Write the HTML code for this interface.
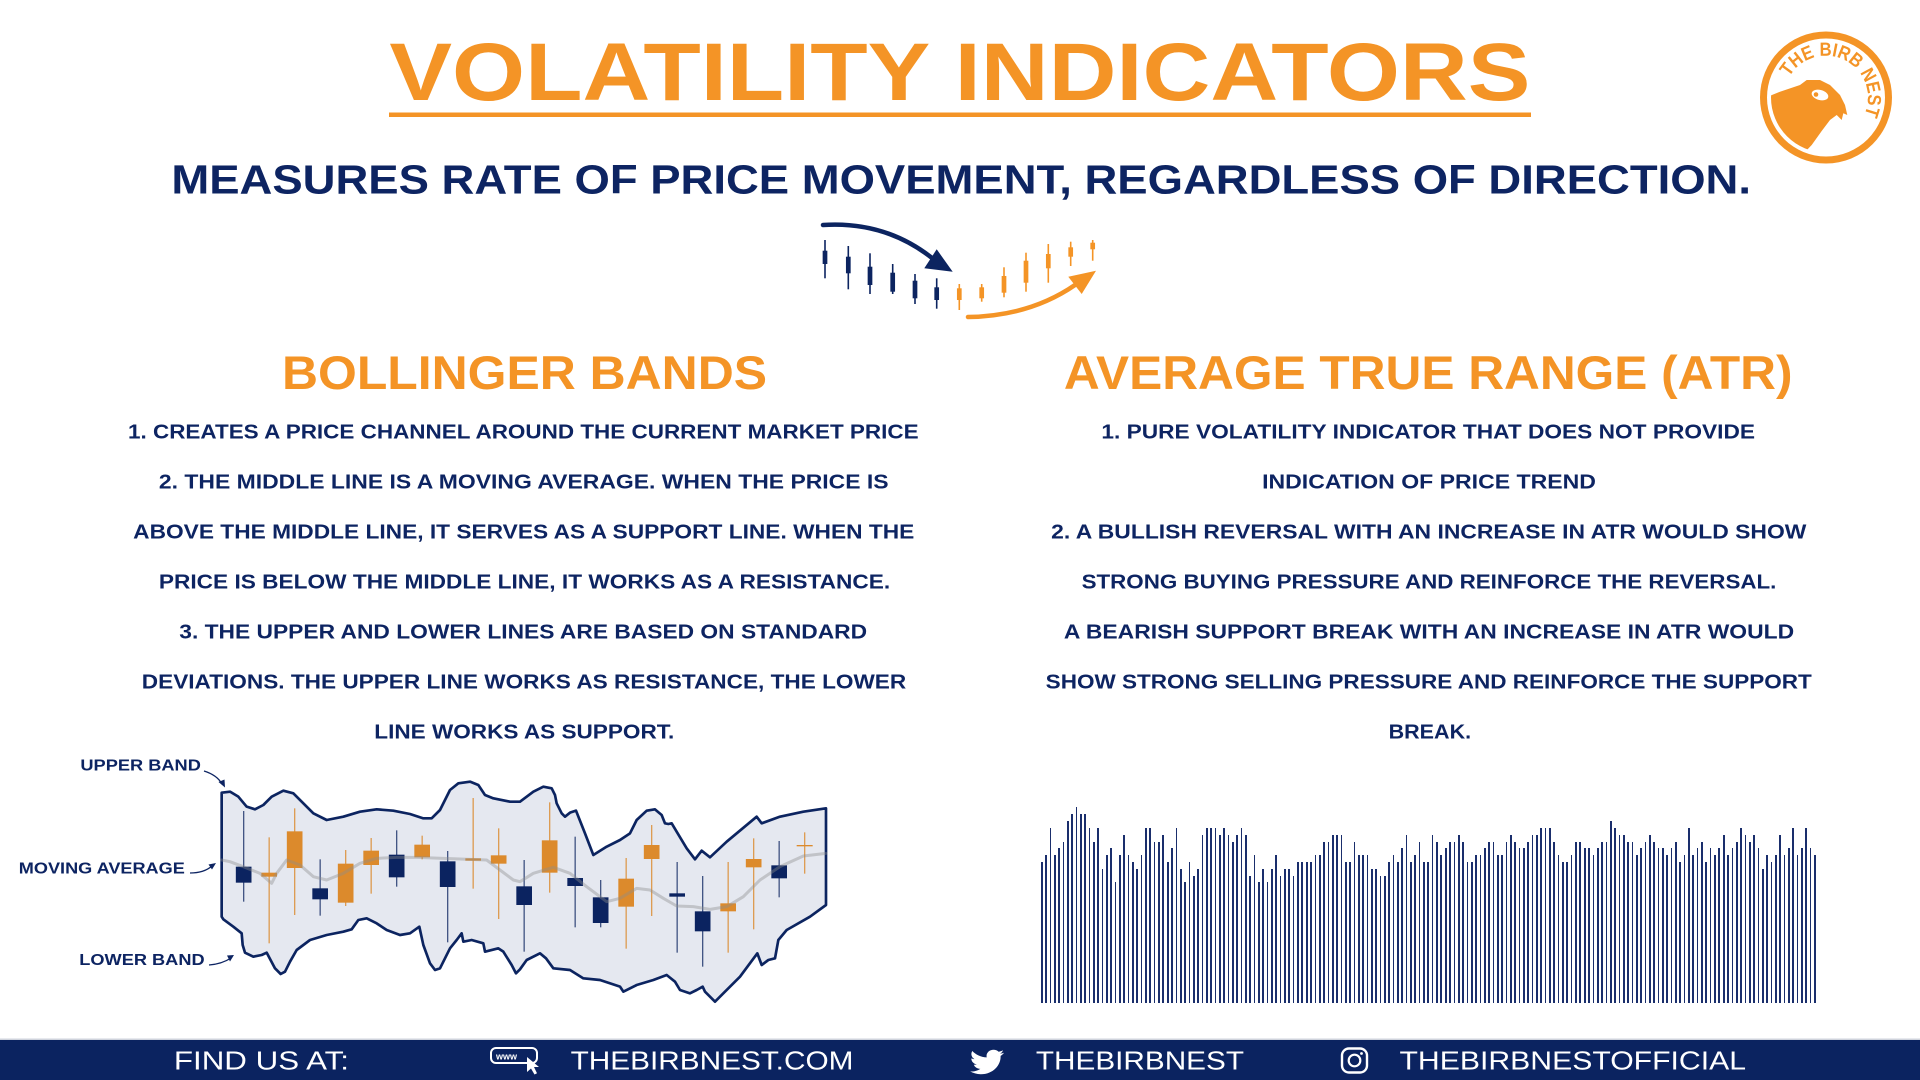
<!DOCTYPE html>
<html>
<head>
<meta charset="utf-8">
<style>
html,body{margin:0;padding:0;background:#fff;}
body{width:1920px;height:1080px;position:relative;overflow:hidden;font-family:"Liberation Sans",sans-serif;}
svg{position:absolute;left:0;top:0;}
#bars{position:absolute;left:1040.85px;top:800px;width:776.7px;height:203px;display:flex;align-items:flex-end;justify-content:space-between;}
#bars i{display:block;width:1.7px;background:#1a2e6c;flex:none;}
#bars .a0{height:195.7px}#bars .a1{height:188.9px}#bars .a2{height:182px}#bars .a3{height:175.2px}
#bars .a4{height:168.4px}#bars .a5{height:161.5px}#bars .a6{height:154.7px}#bars .a7{height:147.9px}
#bars .a8{height:141.1px}#bars .a9{height:134.2px}#bars .a10{height:127.4px}#bars .a11{height:120.6px}
</style>
</head>
<body>
<svg width="1920" height="1080" viewBox="0 0 1920 1080" xmlns="http://www.w3.org/2000/svg">
  <!-- Title -->
  <text x="389.4" y="100" font-family="Liberation Sans, sans-serif" font-weight="bold" font-size="82" fill="#f49426" textLength="1141" lengthAdjust="spacingAndGlyphs">VOLATILITY INDICATORS</text>
  <rect x="389" y="112.5" width="1142" height="4.5" fill="#f49426"/>
  <!-- Subtitle -->
  <text x="171.4" y="193.3" font-family="Liberation Sans, sans-serif" font-weight="bold" font-size="41" fill="#0d2462" textLength="1579.6" lengthAdjust="spacingAndGlyphs">MEASURES RATE OF PRICE MOVEMENT, REGARDLESS OF DIRECTION.</text>

  <!-- Top icon -->
  <g fill="#0c2460">
    <rect x="824.2" y="240" width="1.6" height="38.3"/><rect x="822.65" y="250.7" width="4.7" height="13.3"/>
    <rect x="847.5" y="246" width="1.6" height="43.3"/><rect x="845.95" y="256.7" width="4.7" height="16.6"/>
    <rect x="869.2" y="253.3" width="1.6" height="40.7"/><rect x="867.65" y="266.7" width="4.7" height="18.3"/>
    <rect x="891.9" y="264" width="1.6" height="30"/><rect x="890.35" y="272.7" width="4.7" height="19"/>
    <rect x="914.2" y="274" width="1.6" height="30"/><rect x="912.65" y="280.7" width="4.7" height="17.6"/>
    <rect x="935.9" y="278.3" width="1.6" height="30.4"/><rect x="934.35" y="287.3" width="4.7" height="12.7"/>
  </g>
  <g fill="#f49426">
    <rect x="958.5" y="284" width="1.6" height="26"/><rect x="956.95" y="288.3" width="4.7" height="11.7"/>
    <rect x="980.9" y="284" width="1.6" height="17.7"/><rect x="979.35" y="287.3" width="4.7" height="11"/>
    <rect x="1003.2" y="267.3" width="1.6" height="30"/><rect x="1001.65" y="276" width="4.7" height="16.7"/>
    <rect x="1025.2" y="252.7" width="1.6" height="39"/><rect x="1023.65" y="260.7" width="4.7" height="22"/>
    <rect x="1047.5" y="244" width="1.6" height="38.7"/><rect x="1045.95" y="254" width="4.7" height="14.3"/>
    <rect x="1069.9" y="241.7" width="1.6" height="24.3"/><rect x="1068.35" y="247.3" width="4.7" height="9.4"/>
    <rect x="1091.9" y="240" width="1.6" height="20.7"/><rect x="1090.35" y="242.7" width="4.7" height="6.6"/>
  </g>
  <path d="M823,225 Q885,221 932,258" fill="none" stroke="#0c2460" stroke-width="4.5" stroke-linecap="round"/>
  <polygon points="936.7,249.3 952.7,271.7 924.3,268.3" fill="#0c2460"/>
  <path d="M968,317 Q1030,316 1075,285" fill="none" stroke="#f49426" stroke-width="4.5" stroke-linecap="round"/>
  <polygon points="1068.3,276.7 1096,270.7 1081.7,294" fill="#f49426"/>

  <!-- Logo -->
  <defs>
    <clipPath id="lc"><circle cx="1826" cy="97.5" r="55"/></clipPath>
    <path id="arc" d="M1789.3,77.1 A42,42 0 0 1 1863.1,117.2"/>
  </defs>
  <circle cx="1826" cy="97.5" r="66" fill="#f49426"/>
  <circle cx="1826" cy="97.5" r="59" fill="#fff"/>
  <polygon clip-path="url(#lc)" fill="#f49426" points="1762,99 1780,91.7 1800,85 1806.7,80 1820,80 1830,85 1840,95 1845,105 1847.3,115 1843.3,113.3 1841.7,120 1836.7,115 1830,120 1821.7,131 1811.7,145 1805,152 1800,175 1740,175 1740,99"/>
  <ellipse cx="1820" cy="95" rx="8.5" ry="5" transform="rotate(15 1820 95)" fill="#fff"/>
  <circle cx="1816" cy="94.5" r="2.3" fill="#f49426"/>
  <text font-family="Liberation Sans, sans-serif" font-weight="bold" font-size="19" fill="#f49426"><textPath href="#arc" textLength="128" lengthAdjust="spacingAndGlyphs">THE BIRB NEST</textPath></text>

  <!-- Headings -->
  <text x="282" y="389" font-family="Liberation Sans, sans-serif" font-weight="bold" font-size="47" fill="#f49426" textLength="485" lengthAdjust="spacingAndGlyphs">BOLLINGER BANDS</text>
  <text x="1063.9" y="389" font-family="Liberation Sans, sans-serif" font-weight="bold" font-size="47" fill="#f49426" textLength="728.6" lengthAdjust="spacingAndGlyphs">AVERAGE TRUE RANGE (ATR)</text>

  <!-- Left body -->
  <g font-family="Liberation Sans, sans-serif" font-weight="bold" font-size="20.5" fill="#0d2462">
    <text x="128" y="438.3" textLength="790.6" lengthAdjust="spacingAndGlyphs">1. CREATES A PRICE CHANNEL AROUND THE CURRENT MARKET PRICE</text>
    <text x="158.9" y="488.3" textLength="729.7" lengthAdjust="spacingAndGlyphs">2. THE MIDDLE LINE IS A MOVING AVERAGE. WHEN THE PRICE IS</text>
    <text x="133.2" y="538.3" textLength="781.1" lengthAdjust="spacingAndGlyphs">ABOVE THE MIDDLE LINE, IT SERVES AS A SUPPORT LINE. WHEN THE</text>
    <text x="158.9" y="588.3" textLength="731.3" lengthAdjust="spacingAndGlyphs">PRICE IS BELOW THE MIDDLE LINE, IT WORKS AS A RESISTANCE.</text>
    <text x="179.3" y="638.3" textLength="687.8" lengthAdjust="spacingAndGlyphs">3. THE UPPER AND LOWER LINES ARE BASED ON STANDARD</text>
    <text x="141.8" y="688.3" textLength="764.4" lengthAdjust="spacingAndGlyphs">DEVIATIONS. THE UPPER LINE WORKS AS RESISTANCE, THE LOWER</text>
    <text x="374.3" y="738.3" textLength="300" lengthAdjust="spacingAndGlyphs">LINE WORKS AS SUPPORT.</text>
  </g>
  <!-- Right body -->
  <g font-family="Liberation Sans, sans-serif" font-weight="bold" font-size="20.5" fill="#0d2462">
    <text x="1101.4" y="438.3" textLength="653.6" lengthAdjust="spacingAndGlyphs">1. PURE VOLATILITY INDICATOR THAT DOES NOT PROVIDE</text>
    <text x="1262.1" y="488.3" textLength="333.8" lengthAdjust="spacingAndGlyphs">INDICATION OF PRICE TREND</text>
    <text x="1051.1" y="538.3" textLength="755.3" lengthAdjust="spacingAndGlyphs">2. A BULLISH REVERSAL WITH AN INCREASE IN ATR WOULD SHOW</text>
    <text x="1081.6" y="588.3" textLength="694.8" lengthAdjust="spacingAndGlyphs">STRONG BUYING PRESSURE AND REINFORCE THE REVERSAL.</text>
    <text x="1063.9" y="638.3" textLength="730.2" lengthAdjust="spacingAndGlyphs">A BEARISH SUPPORT BREAK WITH AN INCREASE IN ATR WOULD</text>
    <text x="1045.7" y="688.3" textLength="766.1" lengthAdjust="spacingAndGlyphs">SHOW STRONG SELLING PRESSURE AND REINFORCE THE SUPPORT</text>
    <text x="1388.6" y="738.3" textLength="82.5" lengthAdjust="spacingAndGlyphs">BREAK.</text>
  </g>

  <!-- Bollinger labels -->
  <g font-family="Liberation Sans, sans-serif" font-weight="bold" font-size="16" fill="#0d2462">
    <text x="80.4" y="770.7" textLength="120.5" lengthAdjust="spacingAndGlyphs">UPPER BAND</text>
    <text x="18.8" y="873.3" textLength="166" lengthAdjust="spacingAndGlyphs">MOVING AVERAGE</text>
    <text x="79.3" y="965" textLength="125.3" lengthAdjust="spacingAndGlyphs">LOWER BAND</text>
  </g>
  <g fill="none" stroke="#0d2462" stroke-width="1.3">
    <path d="M204,771 Q217,775 222,784"/>
    <path d="M190,873 Q204,873 212,866"/>
    <path d="M209,965 Q222,964 231,958"/>
  </g>
  <g fill="#0d2462">
    <polygon points="218.5,782 225,787.5 224.5,779.5"/>
    <polygon points="208.5,864.5 216,863 212,869.5"/>
    <polygon points="227,955.5 234,955 230,961.5"/>
  </g>

  <!-- Bollinger chart -->
  <g transform="translate(210,770) scale(0.333333)">
    <polygon fill="#e5e8f0" stroke="#0c2460" stroke-width="8" stroke-linejoin="round" points="35,68 60,65 85,80 110,110 135,118 160,105 185,80 220,62 250,70 280,100 310,130 350,150 400,140 450,125 500,118 550,122 600,132 640,145 665,145 690,120 720,60 745,40 780,35 805,45 825,75 850,85 900,95 930,95 970,65 1000,50 1025,55 1035,75 1040,100 1055,130 1065,140 1080,128 1098,122 1125,190 1150,255 1190,230 1230,210 1260,190 1280,150 1310,122 1335,118 1355,135 1365,160 1375,162 1385,160 1400,185 1430,235 1455,268 1475,242 1500,262 1550,215 1640,140 1655,160 1710,140 1780,125 1848,115 1848,405 1800,440 1730,480 1705,510 1695,565 1675,570 1655,585 1642,550 1590,620 1540,670 1515,695 1485,665 1478,650 1460,660 1440,670 1410,660 1395,635 1370,615 1330,630 1280,645 1240,665 1230,650 1170,630 1120,625 1080,600 1030,595 1008,565 990,550 950,570 930,598 918,610 905,585 880,545 865,535 825,545 820,520 785,510 760,515 755,490 740,510 720,535 690,595 675,600 660,580 640,525 628,470 600,490 570,495 530,480 500,460 470,445 445,450 425,478 400,485 350,495 300,510 260,540 240,575 225,605 212,612 195,595 170,548 155,555 130,560 105,548 98,525 95,490 70,470 40,448 35,440"/>
    <!-- wicks -->
    <g fill="#0c2460" opacity="0.75">
      <rect x="99" y="123" width="4" height="272"/>
      <rect x="328.5" y="268" width="4" height="169"/>
      <rect x="558" y="181" width="4" height="169"/>
      <rect x="711" y="243" width="4" height="274"/>
      <rect x="940.5" y="270" width="4" height="275"/>
      <rect x="1093.5" y="200" width="4" height="272"/>
      <rect x="1170" y="330" width="4" height="142"/>
      <rect x="1399.5" y="276" width="4" height="272"/>
      <rect x="1476" y="318" width="4" height="272"/>
      <rect x="1705.5" y="213" width="4" height="169"/>
    </g>
    <g fill="#dc8a2c" opacity="0.8">
      <rect x="175.5" y="202" width="4" height="318"/>
      <rect x="252" y="115" width="4" height="320"/>
      <rect x="405" y="240" width="4" height="168"/>
      <rect x="481.5" y="204" width="4" height="167"/>
      <rect x="634.5" y="197" width="4" height="71"/>
      <rect x="787.5" y="84" width="4" height="272"/>
      <rect x="864" y="175" width="4" height="272"/>
      <rect x="1017" y="97" width="4" height="271"/>
      <rect x="1246.5" y="264" width="4" height="272"/>
      <rect x="1323" y="165" width="4" height="273"/>
      <rect x="1552.5" y="276" width="4" height="272"/>
      <rect x="1629" y="205" width="4" height="273"/>
      <rect x="1782" y="187" width="4" height="124"/>
    </g>
    <!-- bodies -->
    <g fill="#0b2360">
      <rect x="77.5" y="290" width="47" height="48"/>
      <rect x="307" y="355" width="47" height="33"/>
      <rect x="536.5" y="254" width="47" height="68"/>
      <rect x="689.5" y="274" width="47" height="77"/>
      <rect x="919" y="349" width="47" height="56"/>
      <rect x="1072" y="324" width="47" height="24"/>
      <rect x="1148.5" y="382" width="47" height="77"/>
      <rect x="1378" y="370" width="47" height="10"/>
      <rect x="1454.5" y="424" width="47" height="60"/>
      <rect x="1684" y="286" width="47" height="39"/>
    </g>
    <g fill="#dc8a2c">
      <rect x="154" y="308" width="47" height="12"/>
      <rect x="230.5" y="184" width="47" height="110"/>
      <rect x="383.5" y="281" width="47" height="117"/>
      <rect x="460" y="242" width="47" height="43"/>
      <rect x="613" y="224" width="47" height="38"/>
      <rect x="766" y="265" width="47" height="7"/>
      <rect x="842.5" y="256" width="47" height="25"/>
      <rect x="995.5" y="211" width="47" height="97"/>
      <rect x="1225" y="326" width="47" height="84"/>
      <rect x="1301.5" y="225" width="47" height="42"/>
      <rect x="1531" y="400" width="47" height="24"/>
      <rect x="1607.5" y="267" width="47" height="25"/>
      <rect x="1760" y="225" width="48" height="4"/>
    </g>
    <!-- moving average -->
    <polyline fill="none" stroke="#8c8c8c" stroke-opacity="0.4" stroke-width="9" stroke-linejoin="round" stroke-linecap="round" points="35,270 60,275 100,290 150,310 185,340 200,310 230,270 270,285 310,320 350,330 400,310 450,280 500,265 560,262 620,262 700,265 780,268 830,270 870,300 910,330 930,335 970,310 1030,292 1080,310 1130,350 1190,395 1230,385 1280,355 1320,360 1360,385 1400,408 1450,410 1500,418 1550,410 1600,380 1650,330 1710,290 1780,258 1848,250"/>
  </g>

  <!-- Footer -->
  <rect x="0" y="1038.5" width="1920" height="1.5" fill="#cfd3dc"/>
  <rect x="0" y="1040" width="1920" height="40" fill="#0b2360"/>
  <g font-family="Liberation Sans, sans-serif" font-size="25.5" fill="#fff">
    <text x="173.9" y="1069.3" textLength="175.1" lengthAdjust="spacingAndGlyphs">FIND US AT:</text>
    <text x="570.6" y="1069.3" textLength="282.8" lengthAdjust="spacingAndGlyphs">THEBIRBNEST.COM</text>
    <text x="1035.9" y="1069.3" textLength="208.1" lengthAdjust="spacingAndGlyphs">THEBIRBNEST</text>
    <text x="1399.5" y="1069.3" textLength="346.5" lengthAdjust="spacingAndGlyphs">THEBIRBNESTOFFICIAL</text>
  </g>
  <!-- www icon -->
  <rect x="491" y="1048" width="46" height="15" rx="5" fill="none" stroke="#fff" stroke-width="2"/>
  <text x="496" y="1059.5" font-family="Liberation Sans, sans-serif" font-weight="bold" font-size="9" fill="#fff">www</text>
  <polygon points="527,1057 527,1072 531,1068.5 534.5,1074.5 537,1073.3 534,1067 539,1067" fill="#fff"/>
  <!-- twitter -->
  <path transform="translate(970,1047) scale(1.42 1.25)" fill="#fff" d="M23.954 4.569c-.885.389-1.83.654-2.825.775 1.014-.611 1.794-1.574 2.163-2.723-.951.555-2.005.959-3.127 1.184-.896-.959-2.173-1.559-3.591-1.559-2.717 0-4.92 2.203-4.92 4.917 0 .39.045.765.127 1.124C7.691 8.094 4.066 6.130 1.640 3.161c-.427.722-.666 1.561-.666 2.475 0 1.71.87 3.213 2.188 4.096-.807-.026-1.566-.248-2.228-.616v.061c0 2.385 1.693 4.374 3.946 4.827-.413.111-.849.171-1.296.171-.314 0-.615-.03-.916-.086.631 1.953 2.445 3.377 4.604 3.417-1.68 1.319-3.809 2.105-6.102 2.105-.39 0-.779-.023-1.17-.067 2.189 1.394 4.768 2.209 7.557 2.209 9.054 0 13.999-7.496 13.999-13.986 0-.209 0-.42-.015-.63.961-.689 1.8-1.56 2.46-2.548l-.047-.02z"/>
  <!-- instagram -->
  <rect x="1342" y="1048.5" width="25" height="24" rx="7" fill="none" stroke="#fff" stroke-width="2.4"/>
  <circle cx="1354.5" cy="1060.5" r="5.8" fill="none" stroke="#fff" stroke-width="2.2"/>
  <circle cx="1361.5" cy="1053.5" r="1.4" fill="#fff"/>
</svg>

<div id="bars"><i class="a8"></i><i class="a7"></i><i class="a3"></i><i class="a7"></i><i class="a6"></i><i class="a5"></i><i class="a2"></i><i class="a1"></i><i class="a0"></i><i class="a1"></i><i class="a1"></i><i class="a3"></i><i class="a5"></i><i class="a3"></i><i class="a9"></i><i class="a7"></i><i class="a6"></i><i class="a11"></i><i class="a7"></i><i class="a4"></i><i class="a7"></i><i class="a8"></i><i class="a9"></i><i class="a7"></i><i class="a3"></i><i class="a3"></i><i class="a5"></i><i class="a5"></i><i class="a4"></i><i class="a8"></i><i class="a6"></i><i class="a3"></i><i class="a9"></i><i class="a11"></i><i class="a8"></i><i class="a10"></i><i class="a9"></i><i class="a4"></i><i class="a3"></i><i class="a3"></i><i class="a3"></i><i class="a4"></i><i class="a3"></i><i class="a4"></i><i class="a5"></i><i class="a4"></i><i class="a3"></i><i class="a4"></i><i class="a10"></i><i class="a7"></i><i class="a11"></i><i class="a9"></i><i class="a11"></i><i class="a9"></i><i class="a7"></i><i class="a10"></i><i class="a9"></i><i class="a9"></i><i class="a10"></i><i class="a8"></i><i class="a8"></i><i class="a8"></i><i class="a8"></i><i class="a7"></i><i class="a7"></i><i class="a5"></i><i class="a5"></i><i class="a4"></i><i class="a4"></i><i class="a4"></i><i class="a8"></i><i class="a8"></i><i class="a5"></i><i class="a7"></i><i class="a7"></i><i class="a7"></i><i class="a9"></i><i class="a9"></i><i class="a10"></i><i class="a10"></i><i class="a8"></i><i class="a7"></i><i class="a8"></i><i class="a6"></i><i class="a4"></i><i class="a8"></i><i class="a7"></i><i class="a5"></i><i class="a8"></i><i class="a8"></i><i class="a4"></i><i class="a5"></i><i class="a7"></i><i class="a6"></i><i class="a5"></i><i class="a5"></i><i class="a4"></i><i class="a5"></i><i class="a8"></i><i class="a8"></i><i class="a7"></i><i class="a7"></i><i class="a6"></i><i class="a5"></i><i class="a5"></i><i class="a7"></i><i class="a7"></i><i class="a5"></i><i class="a4"></i><i class="a5"></i><i class="a6"></i><i class="a6"></i><i class="a5"></i><i class="a4"></i><i class="a4"></i><i class="a3"></i><i class="a3"></i><i class="a3"></i><i class="a5"></i><i class="a7"></i><i class="a8"></i><i class="a8"></i><i class="a7"></i><i class="a5"></i><i class="a5"></i><i class="a6"></i><i class="a6"></i><i class="a7"></i><i class="a6"></i><i class="a5"></i><i class="a5"></i><i class="a2"></i><i class="a3"></i><i class="a4"></i><i class="a4"></i><i class="a5"></i><i class="a5"></i><i class="a7"></i><i class="a6"></i><i class="a5"></i><i class="a4"></i><i class="a5"></i><i class="a6"></i><i class="a6"></i><i class="a7"></i><i class="a6"></i><i class="a5"></i><i class="a8"></i><i class="a7"></i><i class="a3"></i><i class="a7"></i><i class="a6"></i><i class="a5"></i><i class="a8"></i><i class="a6"></i><i class="a7"></i><i class="a6"></i><i class="a4"></i><i class="a7"></i><i class="a6"></i><i class="a5"></i><i class="a3"></i><i class="a4"></i><i class="a5"></i><i class="a4"></i><i class="a6"></i><i class="a9"></i><i class="a7"></i><i class="a8"></i><i class="a7"></i><i class="a4"></i><i class="a7"></i><i class="a6"></i><i class="a3"></i><i class="a7"></i><i class="a6"></i><i class="a3"></i><i class="a6"></i><i class="a7"></i></div>
</body>
</html>
